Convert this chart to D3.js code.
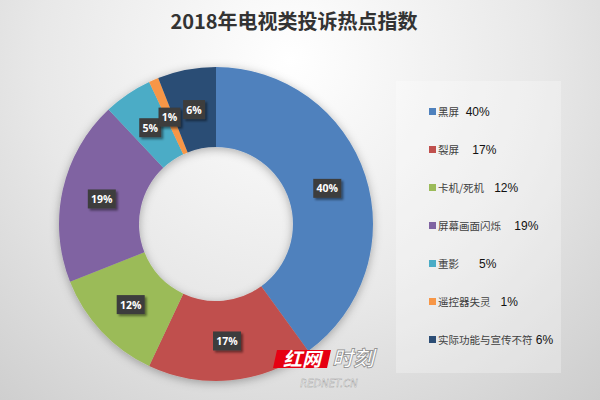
<!DOCTYPE html>
<html>
<head>
<meta charset="utf-8">
<script src="https://cdn.jsdelivr.net/npm/d3@7"></script>
<style>
  body { margin: 0; }
  svg { display: block; }
</style>
</head>
<body>
<div id="chart"></div>
<script>
var titleText = "2018年电视类投诉热点指数";
var categories = ["黑屏", "裂屏", "卡机/死机", "屏幕画面闪烁", "重影", "遥控器失灵", "实际功能与宣传不符"];
var values = [40, 17, 12, 19, 5, 1, 6];
// legend texts keep the spacing of the original
var legendText = ["黑屏  40%", "裂屏    17%", "卡机/死机   12%", "屏幕画面闪烁    19%", "重影      5%", "遥控器失灵   1%", "实际功能与宣传不符 6%"];
var colors = ["#4f81bd", "#c0504d", "#9bbb59", "#8064a2", "#4bacc6", "#f79646", "#2c4d75"];

var width = 600, height = 400;
var cx = 216, cy = 224, outerR = 157, innerR = 77;

var svg = d3.select("#chart").append("svg")
    .attr("width", width)
    .attr("height", height);

var defs = svg.append("defs");

var bg = defs.append("radialGradient")
    .attr("id", "bg")
    .attr("gradientUnits", "userSpaceOnUse")
    .attr("cx", 290).attr("cy", 60).attr("r", 560);
bg.append("stop").attr("offset", "0%").attr("stop-color", "#ffffff");
bg.append("stop").attr("offset", "45%").attr("stop-color", "#e8e8e8");
bg.append("stop").attr("offset", "100%").attr("stop-color", "#c0c0c0");

var shadow = defs.append("filter").attr("id", "shadow")
    .attr("x", "-20%").attr("y", "-20%").attr("width", "140%").attr("height", "140%");
shadow.append("feDropShadow")
    .attr("dx", 0).attr("dy", 2).attr("stdDeviation", 5)
    .attr("flood-color", "#000").attr("flood-opacity", 0.3);

var boxShadow = defs.append("filter").attr("id", "boxShadow")
    .attr("x", "-30%").attr("y", "-30%").attr("width", "170%").attr("height", "170%");
boxShadow.append("feDropShadow")
    .attr("dx", 2).attr("dy", 2).attr("stdDeviation", 1)
    .attr("flood-color", "#000").attr("flood-opacity", 0.45);

svg.append("rect")
    .attr("width", width).attr("height", height)
    .attr("fill", "url(#bg)");

// title
svg.append("text")
    .attr("x", 294)
    .attr("y", 29)
    .attr("text-anchor", "middle")
    .attr("font-family", "Noto Sans CJK SC")
    .attr("font-weight", "bold")
    .style("font-size", "20px")
    .attr("fill", "#333")
    .text(titleText);

// donut
var pie = d3.pie().sort(null).value(function(d) { return d; });
var arcs = pie(values);

var arc = d3.arc().innerRadius(innerR).outerRadius(outerR);
var labelArc = d3.arc().innerRadius(117).outerRadius(117);

var g = svg.append("g")
    .attr("transform", "translate(" + cx + "," + cy + ")");

g.append("g")
    .attr("filter", "url(#shadow)")
    .selectAll("path")
    .data(arcs)
    .enter()
    .append("path")
    .attr("d", arc)
    .attr("fill", function(d, i) { return colors[i]; });

// data labels
var labels = g.selectAll("g.lbl")
    .data(arcs)
    .enter()
    .append("g")
    .attr("class", "lbl")
    .attr("transform", function(d) { return "translate(" + labelArc.centroid(d) + ")"; });

labels.append("rect")
    .attr("x", function(d) { return String(d.data).length > 1 ? -14 : -11; })
    .attr("y", -9)
    .attr("width", function(d) { return String(d.data).length > 1 ? 28 : 22; })
    .attr("height", 19)
    .attr("fill", "#3d3d3d")
    .attr("filter", "url(#boxShadow)");

labels.append("text")
    .attr("text-anchor", "middle")
    .attr("y", 4.5)
    .attr("font-family", "Open Sans")
    .attr("font-weight", "bold")
    .style("font-size", "10.5px")
    .attr("fill", "#fff")
    .text(function(d) { return d.data + "%"; });

// legend panel
svg.append("rect")
    .attr("x", 396).attr("y", 81)
    .attr("width", 165).attr("height", 292)
    .attr("fill", "#fff")
    .attr("fill-opacity", 0.28);

var ly = d3.scalePoint()
    .domain(categories)
    .range([112, 340]);

var legend = svg.selectAll("g.leg")
    .data(categories)
    .enter()
    .append("g")
    .attr("class", "leg")
    .attr("transform", function(d) { return "translate(429," + ly(d) + ")"; });

legend.append("rect")
    .attr("x", 0).attr("y", -4)
    .attr("width", 7).attr("height", 7)
    .attr("fill", function(d, i) { return colors[i]; });

var legendLabel = legend.append("text")
    .attr("x", 9)
    .attr("y", 4)
    .style("white-space", "pre");

legendLabel.append("tspan")
    .attr("font-family", "Noto Sans CJK SC")
    .style("font-size", "10.5px")
    .attr("fill", "#404040")
    .text(function(d) { return d; });

legendLabel.append("tspan")
    .attr("font-family", "Liberation Sans")
    .style("font-size", "12px")
    .attr("fill", "#111")
    .text(function(d, i) { return legendText[i].slice(d.length); });

// watermark
var wm = svg.append("g").attr("transform", "translate(273,350)");
wm.append("path")
    .attr("d", "M4,0 L58,0 L54,18 L0,18 Z")
    .attr("fill", "#e60012");
wm.append("text")
    .attr("x", 29).attr("y", 16)
    .attr("text-anchor", "middle")
    .attr("font-family", "Noto Sans CJK SC")
    .attr("font-weight", "bold")
    .attr("font-style", "italic")
    .style("font-size", "19px")
    .attr("fill", "#fff")
    .text("红网");
wm.append("text")
    .attr("x", 59).attr("y", 16)
    .attr("font-family", "Noto Sans CJK SC")
    .attr("font-weight", "bold")
    .attr("font-style", "italic")
    .style("font-size", "21px")
    .attr("fill", "#fff")
    .attr("stroke", "#888")
    .attr("stroke-width", 0.7)
    .text("时刻");
wm.append("text")
    .attr("x", 56).attr("y", 37)
    .attr("text-anchor", "middle")
    .attr("font-family", "DejaVu Sans")
    .attr("font-style", "italic")
    .style("font-size", "10px")
    .attr("fill", "#fff")
    .attr("stroke", "#999")
    .attr("stroke-width", 0.4)
    .text("REDNET.CN");
</script>
</body>
</html>
